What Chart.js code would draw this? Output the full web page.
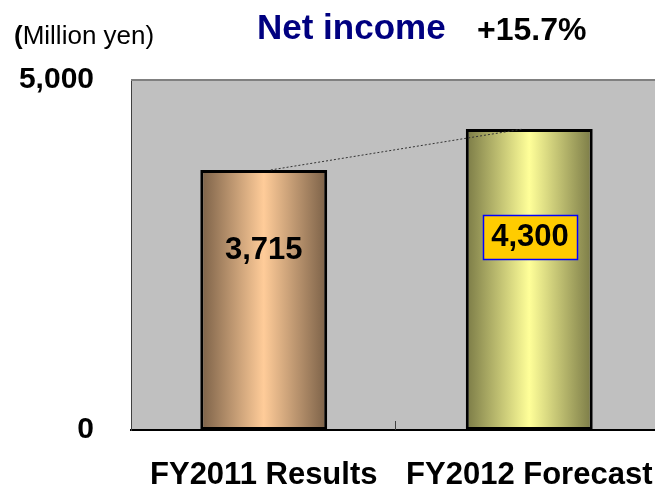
<!DOCTYPE html>
<html>
<head>
<meta charset="utf-8">
<script src="https://cdn.jsdelivr.net/npm/chart.js@4.4.1/dist/chart.umd.min.js"></script>
<style>
  html, body { margin: 0; padding: 0; background: #fff; overflow: hidden; }
  #wrap { width: 655px; height: 489px; overflow: hidden; }
</style>
</head>
<body>
<div id="wrap"><canvas id="grafico" width="662" height="489"></canvas></div>
<script>
// Datos del gráfico
const categorias = ['FY2011 Results', 'FY2012 Forecast'];
const beneficioNeto = [3715, 4300];   // Million yen
const ticksY = [0, 5000];
const titulo = 'Net income';
const crecimiento = '+15.7%';
const unidad = '(Million yen)';

const FUENTE = '"Liberation Sans", Arial, sans-serif';
const anchoBarra = 0.478;

// colores del degradado: [borde, centro]
const degradados = [
    ['#7a6047', '#ffcc99'],
    ['#7a7a46', '#ffff99']
];

function fondoBarra(ctx) {
    const chart = ctx.chart;
    if (!chart.chartArea || ctx.dataIndex === undefined) return degradados[0][1];
    const x = chart.scales.x;
    const cx = x.getPixelForValue(ctx.dataIndex);
    const w = x.width / categorias.length * anchoBarra;
    const g = chart.ctx.createLinearGradient(cx - w / 2, 0, cx + w / 2, 0);
    const c = degradados[ctx.dataIndex];
    g.addColorStop(0, c[0]);
    g.addColorStop(0.5, c[1]);
    g.addColorStop(1, c[0]);
    return g;
}

// Fondo gris del área de trazado
const fondoPlugin = {
    id: 'fondo',
    beforeDraw(chart) {
        const { ctx, chartArea: a } = chart;
        ctx.save();
        ctx.fillStyle = '#c0c0c0';
        ctx.fillRect(a.left, a.top, a.right - a.left, a.bottom - a.top);
        ctx.restore();
    }
};

// Textos, línea punteada, etiquetas de valor
const extrasPlugin = {
    id: 'extras',
    afterDatasetsDraw(chart) {
        const { ctx, chartArea: a, scales } = chart;
        const x = scales.x, y = scales.y;
        ctx.save();

        // borde superior
        ctx.strokeStyle = '#808080';
        ctx.lineWidth = 2;
        ctx.beginPath();
        ctx.moveTo(a.left, a.top);
        ctx.lineTo(a.right, a.top);
        ctx.stroke();

        // marca entre categorías
        const medio = (x.getPixelForValue(0) + x.getPixelForValue(1)) / 2;
        ctx.strokeStyle = '#404040';
        ctx.lineWidth = 1;
        ctx.beginPath();
        ctx.moveTo(Math.round(medio) - 1.5, a.bottom);
        ctx.lineTo(Math.round(medio) - 1.5, a.bottom - 9);
        ctx.stroke();

        // línea punteada entre barras
        ctx.strokeStyle = '#333';
        ctx.setLineDash([2, 2]);
        ctx.beginPath();
        ctx.moveTo(x.getPixelForValue(0) + 7, y.getPixelForValue(beneficioNeto[0]));
        ctx.lineTo(x.getPixelForValue(1) - 6, y.getPixelForValue(beneficioNeto[1]));
        ctx.stroke();
        ctx.setLineDash([]);

        // etiquetas de valor
        ctx.font = 'bold 31px ' + FUENTE;
        ctx.textAlign = 'center';
        ctx.textBaseline = 'middle';
        const t0 = beneficioNeto[0].toLocaleString('en-US');
        const x0 = x.getPixelForValue(0);
        const y0 = y.getPixelForValue(beneficioNeto[0]) + 81;
        ctx.fillStyle = '#000';
        ctx.fillText(t0, x0, y0);

        const t1 = beneficioNeto[1].toLocaleString('en-US');
        const x1 = Math.round(x.getPixelForValue(1) + 1);
        const y1 = Math.round(y.getPixelForValue(beneficioNeto[1]) + 108);
        ctx.fillStyle = '#ffcc00';
        ctx.fillRect(x1 - 47, y1 - 22, 95, 45);
        ctx.strokeStyle = '#0000ff';
        ctx.lineWidth = 1.5;
        ctx.strokeRect(x1 - 47 + 0.5, y1 - 22 + 0.5, 94, 44);
        ctx.fillStyle = '#000';
        ctx.fillText(t1, x1, y1);

        // títulos
        ctx.textAlign = 'left';
        ctx.textBaseline = 'alphabetic';
        ctx.font = 'bold 35px ' + FUENTE;
        ctx.fillStyle = '#000080';
        ctx.fillText(titulo, 257, 39);
        ctx.font = 'bold 32px ' + FUENTE;
        ctx.fillStyle = '#000';
        ctx.fillText(crecimiento, 477, 40);
        ctx.font = 'bold 26px ' + FUENTE;
        ctx.fillText('(', 14, 44);
        const wp = ctx.measureText('(').width;
        ctx.font = '26px ' + FUENTE;
        ctx.fillText(unidad.slice(1), 14 + wp, 44);

        ctx.restore();
    }
};

new Chart(document.getElementById('grafico'), {
    type: 'bar',
    data: {
        labels: categorias,
        datasets: [{
            data: beneficioNeto,
            backgroundColor: fondoBarra,
            borderColor: '#000',
            borderWidth: 3,
            borderSkipped: false,
            barPercentage: anchoBarra,
            categoryPercentage: 1
        }]
    },
    options: {
        responsive: false,
        animation: false,
        layout: { padding: { top: 80, left: 0, right: 0, bottom: 0 } },
        plugins: {
            legend: { display: false },
            tooltip: { enabled: false }
        },
        scales: {
            x: {
                grid: { display: false },
                border: { display: true, color: '#000', width: 2 },
                ticks: {
                    color: '#000',
                    font: { family: FUENTE, size: 31, weight: 'bold' },
                    padding: 19,
                    maxRotation: 0,
                    autoSkip: false
                },
                afterFit(s) {
                    s.height = 59;
                    s.paddingLeft = 0;
                    s.paddingRight = 0;
                }
            },
            y: {
                min: 0,
                max: 5000,
                grid: { display: false },
                border: { display: true, color: '#404040', width: 1 },
                afterBuildTicks(s) { s.ticks = ticksY.map(v => ({ value: v })); },
                ticks: {
                    color: '#000',
                    font: { family: FUENTE, size: 30, weight: 'bold' },
                    padding: 29,
                    callback: v => v.toLocaleString('en-US')
                },
                afterFit(s) {
                    s.width = 131;
                    s.paddingTop = 0;
                    s.paddingBottom = 0;
                }
            }
        }
    },
    plugins: [fondoPlugin, extrasPlugin]
});
</script>
</body>
</html>
